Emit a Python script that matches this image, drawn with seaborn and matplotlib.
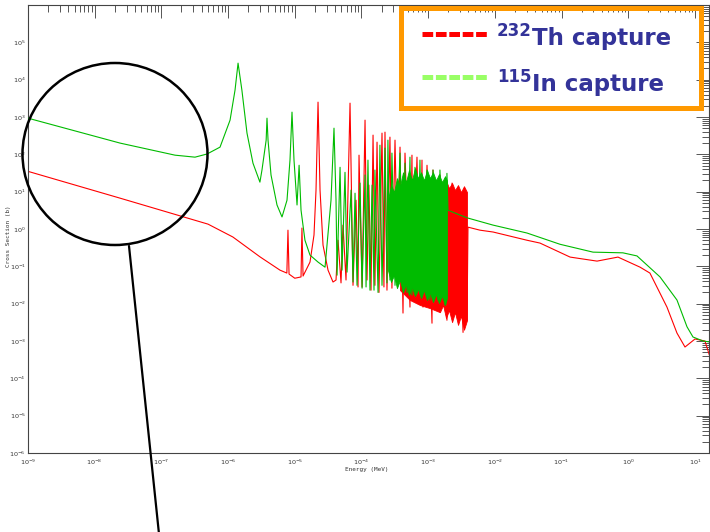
import numpy as np
import pandas as pd
import matplotlib
matplotlib.use("Agg")
import matplotlib.pyplot as plt
import seaborn as sns
from matplotlib.patches import Ellipse, Rectangle
from matplotlib.lines import Line2D
from matplotlib.transforms import IdentityTransform
from matplotlib.ticker import LogLocator, LogFormatterMathtext, NullFormatter, FixedLocator, FuncFormatter

# ---------------- data ----------------
# 232Th capture cross section (b) vs energy (MeV)
th_E = [1.0e-9, 2.4e-8, 5.0e-7, 1.18e-6, 3.0e-6, 6.0e-6, 7.6e-6, 7.9e-6, 8.2e-6, 1.0e-5,
        1.24e-5, 1.28e-5, 1.33e-5, 1.69e-5, 1.94e-5, 2.08e-5, 2.23e-5, 2.39e-5, 2.65e-5, 3.15e-5,
        3.74e-5, 4.15e-5, 4.45e-5, 4.93e-5, 5.28e-5, 5.86e-5, 6.73e-5, 7.46e-5, 8.28e-5, 8.87e-5,
        9.18e-5, 1.02e-4, 1.13e-4, 1.21e-4, 1.29e-4, 1.39e-4, 1.49e-4, 1.59e-4, 1.71e-4, 1.83e-4,
        2.03e-4, 2.17e-4, 2.25e-4, 2.41e-4, 2.67e-4, 2.86e-4, 3.18e-4, 3.52e-4, 3.78e-4, 4.19e-4,
        4.49e-4, 5.33e-4, 5.71e-4, 5.92e-4, 6.79e-4, 7.53e-4, 8.07e-4, 8.36e-4, 9.6e-4, 1.14e-3,
        1.18e-3, 1.40e-3, 1.50e-3, 1.91e-3, 2.28e-3, 2.70e-3, 2.80e-3, 3.33e-3, 3.56e-3, 3.82e-3,
        3.95e-3, 5.98e-3, 9.4e-3, 3.03e-2, 4.74e-2, 0.134, 0.34, 0.70, 1.50, 2.11,
        3.80, 5.37, 7.08, 10.0, 14.1, 16.8]
th_sig = [35, 6.7, 1.35, 0.61, 0.18, 0.079, 0.066, 0.93, 0.062, 0.048,
          0.052, 1.06, 0.055, 0.13, 0.69, 11, 2500, 11, 0.37, 0.079,
          0.038, 0.043, 0.50, 0.036, 1.27, 0.043, 2350, 0.031, 5.9, 0.028,
          95, 0.028, 824, 0.043, 15, 0.023, 327, 0.031, 212, 0.020,
          370, 0.028, 393, 0.023, 289, 0.026, 240, 0.036, 156, 0.0056,
          108, 0.0081, 95, 0.019, 84, 0.0125, 70, 0.0081, 51, 0.0030,
          38, 0.0067, 28, 0.0036, 17, 0.0056, 13, 0.0017, 11, 0.0036,
          1.12, 0.93, 0.83, 0.50, 0.42, 0.177, 0.138, 0.177, 0.095, 0.066,
          0.0081, 0.00163, 6.9e-4, 1.13e-3, 1.0e-3, 3.7e-4]
# densely packed 232Th resonance region (jagged envelope)
th_band_E = [3.78e-4, 5.33e-4, 7.53e-4, 1.06e-3, 1.50e-3, 1.67e-3, 1.85e-3, 2.05e-3,
             2.28e-3, 2.52e-3, 2.80e-3, 3.10e-3, 3.44e-3, 3.82e-3]
th_band_lo = [0.023, 0.0125, 0.0092, 0.0076, 0.0059, 0.0092, 0.0041, 0.0067,
              0.0032, 0.0059, 0.0027, 0.0047, 0.0020, 0.0036]
th_band_hi = [5.9, 11, 15, 17, 18, 14, 20, 12.4, 17, 11, 15, 9.7, 14, 9.7]

# 115In capture cross section (b) vs energy (MeV)
in_E = [1.0e-9, 2.4e-8, 1.60e-7, 3.19e-7, 4.83e-7, 7.57e-7, 1.07e-6, 1.27e-6, 1.41e-6, 1.61e-6,
        1.92e-6, 2.36e-6, 3.0e-6, 3.22e-6, 3.72e-6, 3.83e-6, 3.97e-6, 4.40e-6, 5.41e-6, 6.43e-6,
        7.64e-6, 8.47e-6, 9.08e-6, 9.73e-6, 1.08e-5, 1.16e-5, 1.24e-5, 1.42e-5, 1.69e-5, 2.23e-5,
        2.84e-5, 3.49e-5, 3.87e-5, 4.15e-5, 4.30e-5, 4.77e-5, 5.11e-5, 5.66e-5, 6.07e-5, 6.97e-5,
        7.46e-5, 8.0e-5, 8.57e-5, 9.51e-5, 1.02e-4, 1.13e-4, 1.17e-4, 1.25e-4, 1.34e-4, 1.44e-4,
        1.54e-4, 1.59e-4, 1.77e-4, 1.89e-4, 2.03e-4, 2.25e-4, 2.41e-4, 2.49e-4, 2.67e-4, 2.86e-4,
        3.18e-4, 3.78e-4, 4.19e-4, 4.49e-4, 4.81e-4, 5.33e-4, 5.71e-4, 6.34e-4, 6.79e-4, 7.53e-4,
        8.07e-4, 9.6e-4, 1.06e-3, 1.18e-3, 1.40e-3, 1.50e-3, 1.79e-3, 1.91e-3, 1.98e-3, 3.0e-3,
        3.95e-3, 9.4e-3, 3.03e-2, 9.46e-2, 0.296, 0.83, 1.35, 2.99, 5.37, 7.59,
        9.33, 13.2, 16.8]
in_sig = [930, 200, 95, 84, 102, 156, 824, 5240, 27700, 5240,
          370, 58, 18, 38, 240, 930, 240, 28, 4.4, 2.1,
          5.9, 70, 1350, 70, 4.4, 51, 3.2, 0.50, 0.20, 0.13,
          0.095, 5.9, 502, 5.9, 0.058, 45, 0.079, 33, 0.070, 11,
          0.038, 9.1, 0.031, 17, 0.026, 28, 0.028, 70, 0.023, 15,
          0.023, 38, 0.020, 176, 0.031, 147, 0.036, 240, 0.043, 108,
          0.031, 108, 0.023, 58, 0.020, 84, 0.017, 45, 0.019, 70,
          0.015, 38, 0.0125, 38, 0.0125, 38, 0.0092, 31, 3.2, 2.36,
          1.96, 1.27, 0.78, 0.39, 0.24, 0.23, 0.19, 0.052, 0.0125, 0.0024,
          1.28e-3, 1.0e-3, 9.4e-4]
# densely packed 115In resonance region (jagged envelope)
in_band_E = [2.49e-4, 2.77e-4, 3.07e-4, 3.40e-4, 3.78e-4, 4.19e-4, 4.65e-4, 5.15e-4,
             5.71e-4, 6.34e-4, 7.03e-4, 7.80e-4, 8.65e-4, 9.6e-4, 1.06e-3, 1.18e-3,
             1.31e-3, 1.45e-3, 1.61e-3, 1.79e-3, 1.91e-3]
in_band_lo = [0.079, 0.038, 0.058, 0.026, 0.043, 0.020, 0.0335, 0.017, 0.028, 0.016,
              0.0246, 0.0141, 0.023, 0.0125, 0.020, 0.011, 0.018, 0.0104, 0.016, 0.0092, 0.0141]
in_band_hi = [5.9, 15, 9.7, 23, 14, 33, 18, 38, 20, 43, 23, 33, 20, 38, 23, 33,
              20, 29.5, 18, 26, 20]

y_tick_values = [1e-6, 1e-5, 1e-4, 1e-3, 1e-2, 1e-1, 1e0, 1e1, 1e2, 1e3, 1e4, 1e5]
x_tick_values = [1e-9, 1e-8, 1e-7, 1e-6, 1e-5, 1e-4, 1e-3, 1e-2, 1e-1, 1e0, 1e1]

legend_labels = [("232", "Th capture"), ("115", "In capture")]
x_label = "Energy (MeV)"
y_label = "Cross Section (b)"

# ---------------- styling ----------------
sns.set_style("white")
plt.rcParams["font.family"] = ["DejaVu Sans"]
plt.rcParams["lines.scale_dashes"] = False

RED = "#FF0000"
GREEN = "#00BB00"

W, H = 710, 532
fig = plt.figure(figsize=(W / 100, H / 100), dpi=100)
fig.patch.set_facecolor("white")
left, right, bottom, top = 28, 709, 453, 5
ax = fig.add_axes([left / W, (H - bottom) / H, (right - left) / W, (bottom - top) / H])
ax.set_xscale("log")
ax.set_yscale("log")

th_df = pd.DataFrame({"E": th_E, "sigma": th_sig})
in_df = pd.DataFrame({"E": in_E, "sigma": in_sig})

ax.fill_between(th_band_E, th_band_lo, th_band_hi, color=RED, lw=0.6, ec=RED, zorder=1)
sns.lineplot(data=th_df, x="E", y="sigma", ax=ax, color=RED, lw=0.8,
             estimator=None, sort=False, zorder=2)
ax.fill_between(in_band_E, in_band_lo, in_band_hi, color=GREEN, lw=0.6, ec=GREEN, zorder=3)
sns.lineplot(data=in_df, x="E", y="sigma", ax=ax, color=GREEN, lw=0.8,
             estimator=None, sort=False, zorder=4)

ax.set_xlim(1e-9, 10 ** 1.21)
ax.set_ylim(1e-6, 1e6)
ax.set_xlabel("")
ax.set_ylabel("")

fmt = LogFormatterMathtext()
ax.xaxis.set_major_locator(FixedLocator(x_tick_values))
ax.yaxis.set_major_locator(LogLocator(base=10, numticks=40))
ax.xaxis.set_minor_locator(LogLocator(base=10, subs=np.arange(2, 10), numticks=200))
ax.yaxis.set_minor_locator(LogLocator(base=10, subs=np.arange(2, 10), numticks=200))
ax.xaxis.set_major_formatter(fmt)
ax.yaxis.set_major_formatter(FuncFormatter(
    lambda v, p: fmt(v, p) if any(abs(np.log10(v) - np.log10(t)) < 1e-6 for t in y_tick_values) else ""))
ax.xaxis.set_minor_formatter(NullFormatter())
ax.yaxis.set_minor_formatter(NullFormatter())

ax.tick_params(which="both", direction="in", top=True, right=True, color="#555555",
               labelcolor="#333333", labelsize=4.6, width=0.7)
ax.tick_params(which="major", length=9.5)
ax.tick_params(which="minor", length=5)
ax.tick_params(axis="x", pad=3.5)
ax.tick_params(axis="y", pad=1.5)
for s in ax.spines.values():
    s.set_color("#444444")
    s.set_linewidth(0.8)

fig.text(367 / W, 1 - 470 / H, x_label, ha="center", va="center", fontsize=4.3,
         family="DejaVu Sans Mono", color="#333333")
fig.text(9 / W, 1 - 236 / H, y_label, ha="center", va="center", fontsize=4.3,
         rotation=90, family="DejaVu Sans Mono", color="#333333")

# ---------------- overlay annotations (pixel coordinates) ----------------
ident = IdentityTransform()
circ = Ellipse((115, H - 154), 185, 182, fill=False, ec="black", lw=1.8, transform=ident)
fig.add_artist(circ)
fig.add_artist(Line2D([129, 159], [H - 246, -2], color="black", lw=1.6, transform=ident))

box = Rectangle((400.5, H - 107.5), 300, 100, fill=False, ec="#FF9900", lw=3.6,
                transform=ident, joinstyle="miter")
fig.add_artist(box)

dash_style = dict(lw=3.6, solid_capstyle="butt", dash_capstyle="butt", transform=ident)
fig.add_artist(Line2D([422, 487], [H - 34, H - 34], color=RED, dashes=(7.7, 1.95), **dash_style))
fig.add_artist(Line2D([422, 487], [H - 77, H - 77], color="#99FF66", dashes=(7.7, 1.95), **dash_style))

TXT = "#333399"
for (sup, main), ys, ym in zip(legend_labels, [36, 82], [45, 91]):
    fig.text(497, H - ys, sup, transform=ident, fontsize=12, fontweight="bold",
             color=TXT, ha="left", va="baseline")
    fig.text(532, H - ym, main, transform=ident, fontsize=16.5, fontweight="bold",
             color=TXT, ha="left", va="baseline")

fig.savefig("out.png", dpi=100, facecolor="white")
